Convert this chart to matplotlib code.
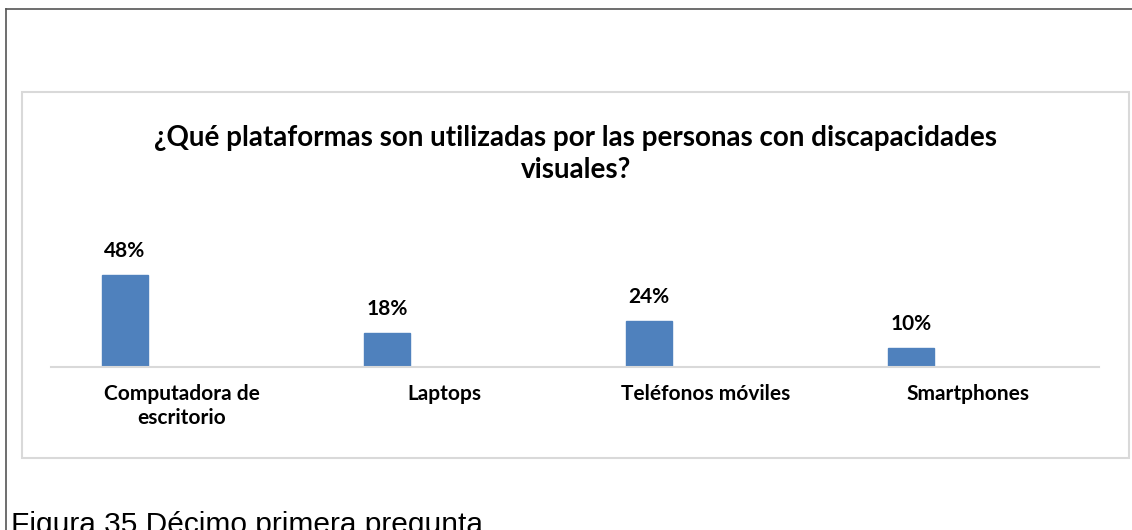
import matplotlib
matplotlib.use("Agg")
import matplotlib.pyplot as plt
from matplotlib.patches import Rectangle
from matplotlib.lines import Line2D

categories = ["Computadora de\nescritorio", "Laptops", "Teléfonos móviles", "Smartphones"]
values = [48, 18, 24, 10]
labels = ["48%", "18%", "24%", "10%"]
title = "¿Qué plataformas son utilizadas por las personas con discapacidades\nvisuales?"
caption = "Figura 35 Décimo primera pregunta"

W, H = 1132, 530
fig = plt.figure(figsize=(W / 100, H / 100), dpi=100)
fig.patch.set_facecolor("white")

def fx(px):
    return px / W

def fy(py):
    return 1 - py / H

# outer page border (left and top only visible)
fig.add_artist(Line2D([fx(6), fx(6)], [fy(9), 0], transform=fig.transFigure, color="#555555", lw=1.2))
fig.add_artist(Line2D([fx(6), 1], [fy(9), fy(9)], transform=fig.transFigure, color="#555555", lw=1.2))

# chart area border
fig.add_artist(Rectangle((fx(22), fy(458)), fx(1129) - fx(22), fy(92) - fy(458),
                         transform=fig.transFigure, fill=False, ec="#D9D9D9", lw=1.5))

# plot axes: x from 51 to 1099 px, baseline at 367 px, top at 230 px
ax_left, ax_right, ax_bottom, ax_top = 51, 1099, 367, 230
ax = fig.add_axes([fx(ax_left), fy(ax_bottom), fx(ax_right) - fx(ax_left), fy(ax_top) - fy(ax_bottom)])
ymax = (ax_bottom - ax_top) / (92 / 48)
ax.set_ylim(0, ymax)
ax.set_xlim(-0.5, len(categories) - 0.5)

xs = list(range(len(categories)))
offset = -57 / 262
bw = 46 / 262
ax.bar([x + offset for x in xs], values, width=bw, color="#4F81BD", edgecolor="#4F81BD")
for x, v, lab in zip(xs, values, labels):
    ax.annotate(lab, (x + offset, v), xytext=(0, 10), textcoords="offset points",
                ha="center", va="bottom", fontsize=15, fontweight="bold", family="Lato")

for s in ["top", "right", "left"]:
    ax.spines[s].set_visible(False)
ax.spines["bottom"].set_color("#D9D9D9")
ax.spines["bottom"].set_linewidth(1.5)
ax.set_yticks([])
ax.set_xticks(xs)
ax.set_xticklabels(categories, fontsize=15, fontweight="bold", family="Lato", linespacing=1.25)
ax.tick_params(axis="x", length=0, pad=12)
ax.set_facecolor("none")

fig.text(fx(576), fy(154), title, ha="center", va="center", fontsize=20,
         fontweight="bold", family="Lato", linespacing=1.3)

fig.text(fx(11), fy(533), caption, ha="left", va="baseline", fontsize=21.5,
         family="Liberation Sans", color="black")

fig.savefig("out.png", dpi=100, facecolor="white")
